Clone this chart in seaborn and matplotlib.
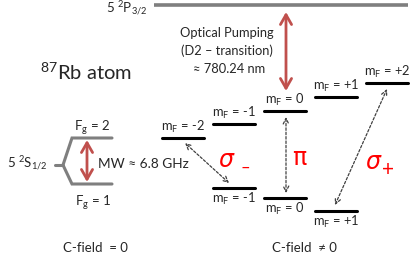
import numpy as np
import pandas as pd
import matplotlib
matplotlib.use("Agg")
import matplotlib.pyplot as plt
import seaborn as sns

# --- data: Zeeman sublevels (pixel layout of the original slide) ---
upper_mf = [-2, -1, 0, 1, 2]
upper_y = [138, 124, 111, 97, 83]
lower_mf = [-1, 0, 1]
lower_y = [188, 198, 211]
upper_labels = ["m$_F$ = -2", "m$_F$ = -1", "m$_F$ = 0", "m$_F$ = +1", "m$_F$ = +2"]
lower_labels = ["m$_F$ = -1", "m$_F$ = 0", "m$_F$ = +1"]

x0 = 264
dx = 51
w = 42

sns.set_style("white")
plt.rcParams["font.family"] = ["Lato", "DejaVu Sans"]
plt.rcParams["mathtext.default"] = "regular"

fig = plt.figure(figsize=(4.12, 2.62), dpi=100)
ax = fig.add_axes([0, 0, 1, 1])
ax.set_xlim(0, 412)
ax.set_ylim(262, 0)

# level segments as a long table for seaborn
rows = []
for i, (m, y) in enumerate(zip(upper_mf, upper_y)):
    xl = x0 + dx * m
    rows += [dict(level=f"u{i}", x=xl, y=y), dict(level=f"u{i}", x=xl + w, y=y)]
for i, (m, y) in enumerate(zip(lower_mf, lower_y)):
    xl = x0 + dx * m
    rows += [dict(level=f"l{i}", x=xl, y=y), dict(level=f"l{i}", x=xl + w, y=y)]
levels = pd.DataFrame(rows)
sns.lineplot(data=levels, x="x", y="y", units="level", estimator=None,
             color="black", lw=2.2, sort=False, ax=ax)

fs = 9.3
for m, y, lab in zip(upper_mf, upper_y, upper_labels):
    ax.text(x0 + dx * m + w / 2, y - 3, lab, ha="center", va="bottom", fontsize=fs)
for m, y, lab in zip(lower_mf, lower_y, lower_labels):
    ax.text(x0 + dx * m + w / 2, y + 3, lab, ha="center", va="top", fontsize=fs)

# excited state
ax.plot([154, 408], [5, 5], color="#7f7f7f", lw=2.6, solid_capstyle="butt")
ax.text(127, 9, "5 $^2$P$_{3/2}$", ha="center", va="center", fontsize=9.5)

red = "#c0504d"
ax.annotate("", xy=(286, 12), xytext=(286, 91),
            arrowprops=dict(arrowstyle="<->,head_width=0.4,head_length=0.7",
                            color=red, lw=2, shrinkA=0, shrinkB=0, mutation_scale=10))
ax.text(227, 33, "Optical Pumping", ha="center", va="center", fontsize=fs)
ax.text(227, 51, "(D2 – transition)", ha="center", va="center", fontsize=fs)
ax.text(229, 69, "≈ 780.24 nm", ha="center", va="center", fontsize=fs)

ax.text(86, 72, "$^{87}$Rb atom", ha="center", va="center", fontsize=14.5)

# ground state hyperfine bracket
gray = "#7f7f7f"
ax.plot([112, 72, 63, 72, 112], [138, 138, 165, 184, 184], color=gray, lw=2.2,
        solid_joinstyle="miter")
ax.plot([55, 63], [165, 165], color=gray, lw=2.2)
ax.annotate("", xy=(87, 140), xytext=(87, 182),
            arrowprops=dict(arrowstyle="<->,head_width=0.4,head_length=0.7",
                            color=red, lw=2, shrinkA=0, shrinkB=0, mutation_scale=10))
ax.text(27, 164, "5 $^2$S$_{1/2}$", ha="center", va="center", fontsize=9.5)
ax.text(143, 164, "MW ≈ 6.8 GHz", ha="center", va="center", fontsize=9.8)
ax.text(92, 128, "F$_g$ = 2", ha="center", va="center", fontsize=9.5)
ax.text(93, 203, "F$_g$ = 1", ha="center", va="center", fontsize=9.5)

ax.text(95, 248, "C-field  = 0", ha="center", va="center", fontsize=9.5)
ax.text(304, 248, "C-field  ≠ 0", ha="center", va="center", fontsize=9.5)

# transitions
dark = "#404040"
for (xa, ya), (xb, yb) in [((185, 143), (229, 183)),
                           ((286, 117), (286, 193)),
                           ((387, 89), (335, 205))]:
    ax.annotate("", xy=(xa, ya), xytext=(xb, yb),
                arrowprops=dict(arrowstyle="<->,head_width=0.25,head_length=0.5",
                                color=dark, lw=0.9, ls=(0, (2, 1.5)),
                                shrinkA=0, shrinkB=0, mutation_scale=8))

ax.text(226, 160, "σ", color="red", fontsize=17, ha="center", va="center",
        family="DejaVu Sans", style="italic")
ax.text(245, 168, "–", color="red", fontsize=12, ha="center", va="center")
ax.text(299, 158, "π", color="red", fontsize=17, ha="center", va="center",
        family="DejaVu Sans")
ax.text(373, 162, "σ", color="red", fontsize=17, ha="center", va="center",
        family="DejaVu Sans", style="italic")
ax.text(388, 170, "+", color="red", fontsize=15, ha="center", va="center")

ax.set_axis_off()
fig.savefig("out.png", dpi=100)
